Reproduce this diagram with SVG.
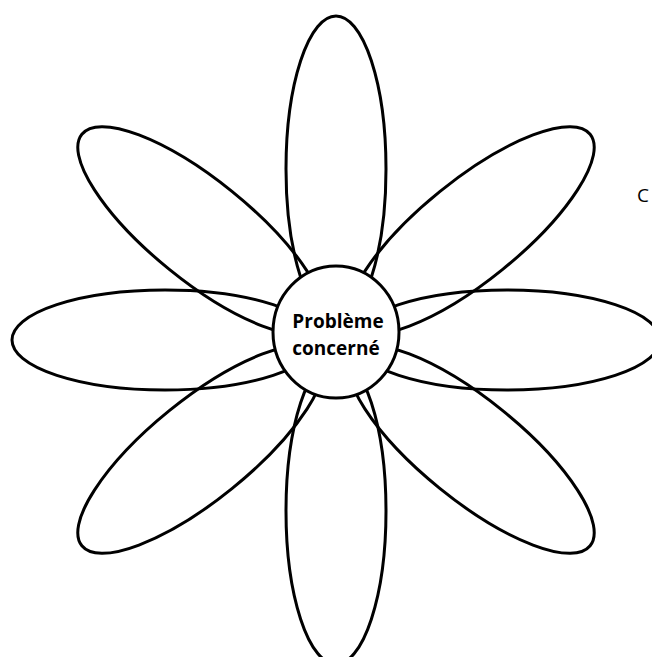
<svg xmlns="http://www.w3.org/2000/svg" width="652" height="657" viewBox="0 0 652 657">
<style>
.petal{fill:none;stroke:#000;stroke-width:3}
.core{fill:#fff;stroke:#000;stroke-width:3}
.lbl{font-family:"Open Sans","Noto Sans","Liberation Sans",sans-serif;font-weight:bold;font-size:19px;fill:#000;text-anchor:middle}
.cut{font-family:"Open Sans","Noto Sans","Liberation Sans",sans-serif;font-size:19px;fill:#000}
</style>
<defs>
<ellipse id="p" cx="0" cy="-171" rx="50" ry="153"/>
<ellipse id="pd" cx="0" cy="-174" rx="50" ry="153"/>
</defs>
<rect width="652" height="657" fill="#fff"/>
<g id="petal-top" transform="translate(336,340)"><use href="#p" class="petal"/></g>
<g id="petal-bottom" transform="translate(336,340) rotate(180)"><use href="#p" class="petal"/></g>
<g id="petal-left" transform="translate(336,340) rotate(-90)"><use href="#p" class="petal"/></g>
<g id="petal-right" transform="translate(336,340) rotate(90)"><use href="#p" class="petal"/></g>
<g id="petal-upper-left" transform="translate(336,340) rotate(-51)"><use href="#pd" class="petal"/></g>
<g id="petal-upper-right" transform="translate(336,340) rotate(51)"><use href="#pd" class="petal"/></g>
<g id="petal-lower-right" transform="translate(336,340) rotate(129)"><use href="#pd" class="petal"/></g>
<g id="petal-lower-left" transform="translate(336,340) rotate(-129)"><use href="#pd" class="petal"/></g>
<g id="center">
<ellipse class="core" cx="336" cy="332" rx="63" ry="66"/>
<text class="lbl" x="338" y="328">Problème</text>
<text class="lbl" x="336" y="355">concerné</text>
</g>
<g id="edge-text"><text class="cut" x="637" y="202">C</text></g>
</svg>
